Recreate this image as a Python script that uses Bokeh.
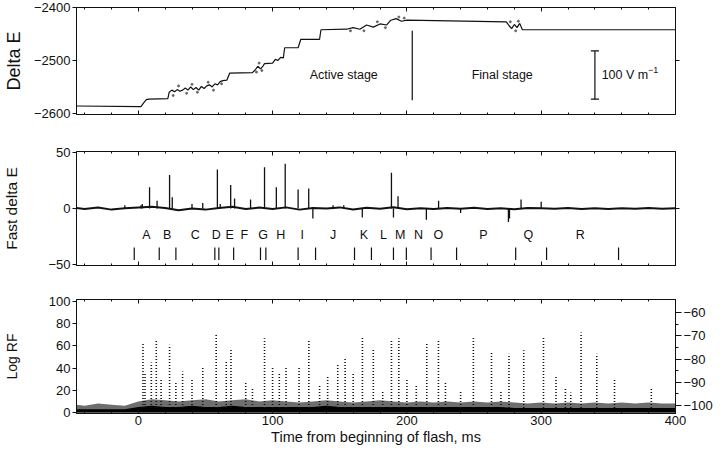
from bokeh.plotting import figure
from bokeh.models import Range1d, LinearAxis, FixedTicker
from bokeh.layouts import column
from bokeh.embed import file_html
from bokeh.resources import INLINE
from bokeh.core.properties import value

FONT = "Liberation Sans"
INK = "#111111"

# ---------------- data ----------------
x_ticks = [0, 100, 200, 300, 400]
x_minor = [-40, -20, 20, 40, 60, 80, 120, 140, 160, 180, 220, 240, 260, 280, 320, 340, 360, 380]

# Top panel: Delta E (V/m)
de_t = [-46, 2, 4, 6, 8, 22, 23, 25, 27, 29, 31, 33, 35, 37, 39, 41, 43, 45, 47, 49, 51, 53, 55,
        57, 59, 61, 63, 66, 68, 85, 87, 89, 91, 93, 94, 100, 102, 104, 106, 108, 109, 119, 121,
        135, 136, 155, 160, 165, 170, 175, 180, 185, 188, 192, 196, 200, 274, 276, 278, 280, 282,
        284, 286, 287, 400]
de_v = [-2586, -2587, -2580, -2574, -2573, -2572, -2560, -2556, -2559, -2555, -2558, -2556, -2552,
        -2556, -2550, -2555, -2551, -2556, -2549, -2553, -2548, -2546, -2550, -2544, -2546, -2540,
        -2538, -2537, -2524, -2523, -2518, -2511, -2516, -2510, -2506, -2505, -2498, -2500, -2494,
        -2495, -2476, -2476, -2460, -2460, -2442, -2441, -2438, -2441, -2433, -2437, -2431, -2433,
        -2424, -2421, -2426, -2424, -2427, -2434, -2440, -2432, -2438, -2430, -2442, -2442, -2442]
de_dot_t = [26, 30, 36, 40, 44, 52, 56, 62, 88, 90, 92, 158, 168, 178, 184, 194, 198, 277, 281, 283]
de_dot_v = [-2566, -2548, -2562, -2545, -2560, -2541, -2556, -2544, -2522, -2505, -2519, -2444,
            -2444, -2427, -2438, -2418, -2420, -2427, -2444, -2426]

# Middle panel: fast delta E
fb_t = [-46, -40, -30, -20, -10, 0, 10, 20, 30, 40, 50, 60, 70, 80, 90, 100, 110, 120, 130, 140,
        150, 160, 170, 180, 190, 200, 210, 220, 230, 240, 250, 260, 270, 280, 290, 300, 310, 320,
        330, 340, 350, 360, 370, 380, 390, 400]
fb_v = [0.5, -0.5, 0.8, -1.0, 0.3, 1.0, 1.5, 0.5, -1.5, 0.0, -1.0, 0.5, 1.5, -0.5, 0.8, -0.5, 1.0,
        -1.0, 0.5, 0.0, 1.0, -0.8, 0.6, -0.2, 1.2, -0.6, 0.3, -0.5, 0.4, -0.3, 0.6, -0.4, 0.2,
        -0.6, 0.5, 0.3, -0.2, 0.4, -0.5, 0.2, -0.4, 0.3, -0.2, 0.4, -0.3, 0.2]
sp_t = [8.4, 14, 23.3, 25.3, 58.9, 68.8, 71.7, 83.6, 94, 102.8, 109.4, 119, 126.9, 130, 166.8,
        188.5, 190, 193.4, 214.5, 223.6, 275.6, 285, 276.4, 300, 3, -10, 40, 48, 153, 61, 2, 145, 240]
sp_v = [19, 7, 30, 10, 35, 21, 9, 8, 37, 19, 40, 17, 18, -9, -8, 32, -8, 11, -10, 7, -12, 8, -9,
        6, 4, 3, 4, 5, 3, 4, 3, 3, -4]

letters = ["A", "B", "C", "D", "E", "F", "G", "H", "I", "J", "K", "L", "M", "N", "O", "P", "Q", "R"]
letter_t = [6, 21.5, 42.5, 58, 68, 79, 93, 106, 122, 145, 168, 182.5, 195, 208.6, 223.5, 257, 290.5, 329]
stroke_t = [-3, 15.6, 28, 57, 60, 71, 91, 95, 119, 132, 161, 173.6, 190, 199.6, 218, 237, 281, 304, 357.6]

# Bottom panel: Log RF
rf_t = [3.5, 9.7, 13.4, 23.3, 33, 48, 58, 65.5, 69, 94, 100, 110, 119.7, 127, 141, 148.5, 154,
        166.9, 175, 188.5, 194, 214.8, 223.5, 228.7, 249.5, 263, 276, 287, 301.7, 311, 329.7,
        341.4, 354.6, 382, 5, 17, 28, 40, 80, 85, 105, 135, 160, 182, 200, 207, 240, 270, 318, 322]
rf_top = [63, 45, 66, 61, 37, 41, 70, 46, 57, 67, 41, 41, 40, 66, 32, 43, 50, 69, 58, 66, 67, 63,
          65, 27, 69, 54, 53, 56, 68, 33, 72, 53, 30, 22, 35, 30, 28, 30, 28, 22, 35, 25, 35, 20,
          30, 25, 20, 20, 22, 18]
rf_floor = [7, 6, 8, 7, 6, 10, 12, 11, 10, 11, 12, 10, 11, 12, 10, 11, 10, 9, 10, 11, 10, 9, 10,
            11, 10, 9, 10, 9, 10, 9, 10, 9, 10, 9, 8, 9, 8, 9, 8, 9, 8, 9, 8, 9, 8, 8]
rf_core = [3, 3, 3, 3, 3, 5, 6, 5, 5, 6, 5, 5, 6, 5, 5, 5, 5, 5, 5, 6, 5, 5, 5, 5, 5, 5, 5, 5, 5,
           5, 5, 5, 5, 4, 4, 4, 4, 4, 4, 4, 4, 4, 4, 4, 4, 4]


# ---------------- helpers ----------------
def minus(v):
    return ("\u2212" + str(abs(v))) if v < 0 else str(v)


def make_fig(yr, fh, top, bottom):
    p = figure(frame_width=599, frame_height=fh, x_range=Range1d(-46, 400), y_range=yr,
               output_backend="svg", toolbar_location=None, min_border_left=72,
               min_border_right=37, min_border_top=top, min_border_bottom=bottom,
               x_axis_location=None, y_axis_location=None)
    p.grid.visible = False
    p.outline_line_color = INK
    p.outline_line_width = 1
    p.background_fill_color = "white"
    p.border_fill_color = "white"
    return p


def make_axis(ticks, minor, labels=True, t_in=0, t_out=0, m_in=0, m_out=0, size="13px",
              range_name=None):
    kw = {}
    if range_name:
        kw["y_range_name"] = range_name
    a = LinearAxis(ticker=FixedTicker(ticks=ticks, minor_ticks=minor), **kw)
    a.axis_line_color = INK
    a.major_tick_line_color = INK
    a.minor_tick_line_color = INK
    a.major_tick_in = t_in
    a.major_tick_out = t_out
    a.minor_tick_in = m_in
    a.minor_tick_out = m_out
    if labels:
        a.major_label_overrides = {t: minus(t) for t in ticks}
        a.major_label_text_font = FONT
        a.major_label_text_font_size = size
        a.major_label_text_color = INK
        a.major_label_standoff = 2
    else:
        a.major_label_text_font_size = "1px"
        a.major_label_text_color = None
        a.major_label_standoff = 0
    return a


def set_title(a, text, size, standoff):
    a.axis_label = text
    a.axis_label_text_font = FONT
    a.axis_label_text_font_size = size
    a.axis_label_text_font_style = "normal"
    a.axis_label_text_color = INK
    a.axis_label_standoff = standoff


# ---------------- top panel ----------------
p1 = make_fig(Range1d(-2602, -2400), 107, 7, 15)
ya1 = make_axis([-2600, -2500, -2400], [], True, 0, 4)
set_title(ya1, "Delta E", "18px", 7)
p1.add_layout(ya1, "left")
p1.add_layout(make_axis([-2500], [], False, 0, 4), "right")
p1.add_layout(make_axis(x_ticks, x_minor, False, 4, 0, 2, 0), "below")
p1.add_layout(make_axis(x_ticks, x_minor, False, 4, 0, 2, 0), "above")

p1.line(de_t, de_v, line_color=INK, line_width=1.2)
p1.scatter(de_dot_t, de_dot_v, size=2, color="#666666")
p1.segment(x0=[204], y0=[-2444], x1=[204], y1=[-2575], line_color=INK, line_width=1.2)
p1.segment(x0=[340, 337, 337], y0=[-2482, -2482, -2573], x1=[340, 343, 343],
           y1=[-2573, -2482, -2573], line_color=INK, line_width=1.2)
p1.text(x=[153, 271], y=[-2528, -2528], text=["Active stage", "Final stage"],
        text_font=value(FONT), text_font_size="12.5px", text_align="center",
        text_baseline="middle", text_color=INK)
p1.text(x=[345], y=[-2528], text=["100 V m"], text_font=value(FONT), text_font_size="12.5px",
        text_align="left", text_baseline="middle", text_color=INK)
p1.text(x=[379.5], y=[-2518], text=["\u22121"], text_font=value(FONT), text_font_size="9px",
        text_align="left", text_baseline="middle", text_color=INK)

# ---------------- middle panel ----------------
p2 = make_fig(Range1d(-51, 51), 114, 22, 14)
ya2 = make_axis([-50, 0, 50], [], True, 0, 4)
set_title(ya2, "Fast delta E", "15.5px", 25)
p2.add_layout(ya2, "left")
p2.add_layout(make_axis([0], [], False, 0, 4), "right")
p2.add_layout(make_axis(x_ticks, x_minor, False, 4, 0, 2, 0), "below")
p2.add_layout(make_axis(x_ticks, x_minor, False, 4, 0, 2, 0), "above")

p2.segment(x0=sp_t, y0=[0] * len(sp_t), x1=sp_t, y1=sp_v, line_color=INK, line_width=1.3)
p2.line(fb_t, fb_v, line_color=INK, line_width=2)
p2.text(x=letter_t, y=[-24] * len(letter_t), text=letters, text_font=value(FONT),
        text_font_size="12.5px", text_align="center", text_baseline="middle", text_color=INK)
p2.segment(x0=stroke_t, y0=[-35] * len(stroke_t), x1=stroke_t, y1=[-46] * len(stroke_t),
           line_color=INK, line_width=1.2)

# ---------------- bottom panel ----------------
p3 = make_fig(Range1d(-0.9, 101.8), 114, 20, 34)
p3.extra_y_ranges = {"dbm": Range1d(-103.4, -54.4)}
ya3 = make_axis([0, 20, 40, 60, 80, 100], [], True, 0, 4)
set_title(ya3, "Log RF", "14px", 26)
p3.add_layout(ya3, "left")
p3.add_layout(make_axis([-100, -90, -80, -70, -60], [-95, -85, -75, -65], True, 0, 6, 0, 3,
                        range_name="dbm"), "right")
xb = make_axis(x_ticks, x_minor, True, 4, 0, 2, 0)
set_title(xb, "Time from beginning of flash, ms", "14.5px", 1)
p3.add_layout(xb, "below")
p3.add_layout(make_axis(x_ticks, x_minor, False, 4, 0, 2, 0), "above")

p3.varea(x=fb_t, y1=[0] * len(fb_t), y2=rf_floor, fill_color="#555555", fill_alpha=0.85)
p3.varea(x=fb_t, y1=[0] * len(fb_t), y2=rf_core, fill_color="#000000")
p3.segment(x0=rf_t, y0=[4] * len(rf_t), x1=rf_t, y1=rf_top, line_color=INK, line_width=1.6,
           line_dash="1 2")

layout = column(p1, p2, p3)
open("out.html", "w").write(file_html(layout, INLINE))
